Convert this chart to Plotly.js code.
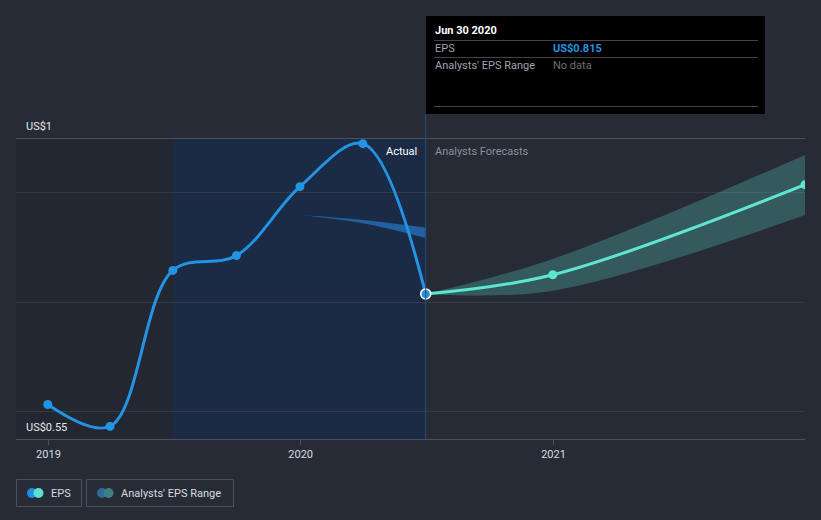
<!DOCTYPE html>
<html>
<head>
<meta charset="utf-8">
<script src="https://cdn.plot.ly/plotly-3.0.1.min.js"></script>
<style>
  html, body { margin: 0; padding: 0; background: #262b36; }
  #chart { width: 821px; height: 520px; }
</style>
</head>
<body>
<div id="chart"></div>
<script>
// ---- data ----
const actualDates = ['2018-12-31', '2019-03-31', '2019-06-30', '2019-09-30', '2019-12-31', '2020-03-31', '2020-06-30'];
const actualEps = [0.613, 0.573, 0.858, 0.885, 1.011, 1.0895, 0.815];

const forecastDates = ['2020-06-30', '2020-12-31', '2021-12-31'];
const forecastEps = [0.815, 0.850, 1.0146];
const forecastLow = [0.815, 0.821, 0.959];
const forecastHigh = [0.815, 0.879, 1.069];

const pastRangeDates = ['2019-12-31', '2020-03-31', '2020-06-30'];
const pastRangeLow = [0.959, 0.944, 0.917];
const pastRangeHigh = [0.959, 0.950, 0.936];

const xTickVals = ['2019-01-01', '2020-01-01', '2021-01-01'];
const xTickText = ['2019', '2020', '2021'];
const yGrid = [0.6, 0.8, 1.0];
const yRange = [0.55, 1.098];
const xRange = ['2018-11-15', '2021-12-31'];

// ---- layout helpers (pixel -> paper) ----
const L = 16, R = 805, T = 139, B = 439;
const px = x => (x - L) / (R - L);
const py = y => (B - y) / (B - T);

const font = 'Roboto, "Open Sans", sans-serif';
const blue = '#2394e3';
const teal = '#5fe6d3';

const traces = [
  { x: pastRangeDates, y: pastRangeLow, mode: 'lines', line: { width: 0, shape: 'spline', color: 'rgba(0,0,0,0)' }, showlegend: false, hoverinfo: 'skip' },
  { x: pastRangeDates, y: pastRangeHigh, mode: 'lines', fill: 'tonexty', fillcolor: 'rgba(36,110,185,0.8)', line: { width: 0, shape: 'spline', color: 'rgba(0,0,0,0)' }, showlegend: false, hoverinfo: 'skip' },
  { x: forecastDates, y: forecastLow, mode: 'lines', line: { width: 0, shape: 'spline', color: 'rgba(0,0,0,0)' }, showlegend: false, hoverinfo: 'skip' },
  { x: forecastDates, y: forecastHigh, mode: 'lines', fill: 'tonexty', fillcolor: 'rgba(90,200,190,0.3)', line: { width: 0, shape: 'spline', color: 'rgba(0,0,0,0)' }, showlegend: false, hoverinfo: 'skip' },
  { x: forecastDates, y: forecastEps, mode: 'lines+markers', line: { width: 3, shape: 'spline', color: teal }, marker: { size: 9, color: teal }, showlegend: false },
  { x: actualDates, y: actualEps, mode: 'lines+markers', line: { width: 3, shape: 'spline', color: blue }, marker: { size: 9, color: blue }, showlegend: false },
  { x: [actualDates[actualDates.length - 1]], y: [actualEps[actualEps.length - 1]], mode: 'markers', marker: { size: 10, color: blue, line: { color: '#ffffff', width: 1.5 } }, showlegend: false }
];

function rectPx(x0, y0, x1, y1, opts) {
  return Object.assign({ type: 'rect', xref: 'paper', yref: 'paper', x0: px(x0), x1: px(x1), y0: py(y1), y1: py(y0), line: { width: 0 } }, opts);
}
function linePx(x0, y0, x1, y1, color, w) {
  return { type: 'line', xref: 'paper', yref: 'paper', x0: px(x0), x1: px(x1), y0: py(y0), y1: py(y1), line: { color: color, width: w || 1 } };
}
function circlePx(cx, cy, r, color) {
  return { type: 'circle', xref: 'paper', yref: 'paper', x0: px(cx - r), x1: px(cx + r), y0: py(cy + r), y1: py(cy - r), fillcolor: color, line: { width: 0 } };
}

const shapes = [
  { type: 'rect', xref: 'x', yref: 'paper', x0: xRange[0], x1: '2019-06-30', y0: 0, y1: 1, fillcolor: 'rgba(15,17,22,0.13)', line: { width: 0 }, layer: 'below' },
  { type: 'rect', xref: 'x', yref: 'paper', x0: '2019-06-30', x1: '2020-06-30', y0: 0, y1: 1, fillcolor: '#1b2b46', line: { width: 0 }, layer: 'below' },
  // vertical divider
  { type: 'line', xref: 'x', yref: 'paper', x0: '2020-06-30', x1: '2020-06-30', y0: 0, y1: py(114), line: { color: '#2b4d7c', width: 1 } },
  // tooltip
  rectPx(426, 16, 765, 114, { fillcolor: '#000000' }),
  linePx(434, 40.5, 758, 40.5, '#444444'),
  linePx(434, 57.5, 758, 57.5, '#444444'),
  linePx(434, 106.5, 758, 106.5, '#444444'),
  // legend boxes
  rectPx(16.5, 479.5, 81.5, 506.5, { line: { color: '#4a505c', width: 1 } }),
  rectPx(86.5, 479.5, 233.5, 506.5, { line: { color: '#4a505c', width: 1 } }),
  circlePx(32, 493, 5, '#1f8fe5'),
  circlePx(38.5, 493, 5, '#5de0d0'),
  circlePx(102, 493, 5, '#2c6a9c'),
  circlePx(108.5, 493, 5, '#3f8083')
];

function ann(text, x, y, opts) {
  return Object.assign({ text: text, xref: 'paper', yref: 'paper', x: px(x), y: py(y), xanchor: 'left', yanchor: 'middle', showarrow: false, font: { family: font, size: 11, color: '#e6e8eb' } }, opts);
}

const annotations = [
  ann('US$1', 24, 127),
  ann('US$0.55', 24, 427),
  { text: 'Actual', xref: 'x', yref: 'paper', x: '2020-06-30', xshift: -7, y: py(151), xanchor: 'right', yanchor: 'middle', showarrow: false, font: { family: font, size: 11, color: '#ffffff' } },
  { text: 'Analysts Forecasts', xref: 'x', yref: 'paper', x: '2020-06-30', xshift: 7, y: py(151), xanchor: 'left', yanchor: 'middle', showarrow: false, font: { family: font, size: 11, color: '#8a8f99' } },
  ann('<b>Jun 30 2020</b>', 433, 31, { font: { family: font, size: 11, color: '#ffffff' } }),
  ann('EPS', 433, 48, { font: { family: font, size: 11, color: '#a0a4ab' } }),
  ann('<b>US$0.815</b>', 551, 48, { font: { family: font, size: 11, color: '#2394e3' } }),
  ann("Analysts' EPS Range", 433, 65, { font: { family: font, size: 11, color: '#a0a4ab' } }),
  ann('No data', 551, 65, { font: { family: font, size: 11, color: '#6b6f77' } }),
  ann('EPS', 49, 493, { font: { family: font, size: 11, color: '#d8dbe0' } }),
  ann("Analysts' EPS Range", 119, 493, { font: { family: font, size: 11, color: '#d8dbe0' } })
];

const layout = {
  width: 821, height: 520,
  paper_bgcolor: '#262b36',
  plot_bgcolor: '#262b36',
  margin: { l: L, r: 821 - R, t: T, b: 520 - B, pad: 0 },
  showlegend: false,
  hovermode: false,
  font: { family: font, size: 11, color: '#d8dbe0' },
  xaxis: {
    type: 'date', range: xRange, tickvals: xTickVals, ticktext: xTickText,
    showgrid: false, zeroline: false, showline: true, mirror: true, linecolor: '#4b515d', linewidth: 1,
    ticks: 'outside', ticklen: 5, tickcolor: '#4b515d', tickfont: { family: font, size: 11, color: '#d8dbe0' }, fixedrange: true
  },
  yaxis: {
    range: yRange, tickvals: yGrid, showticklabels: false, showgrid: true, gridcolor: '#343a46', gridwidth: 1,
    zeroline: false, showline: false, ticks: '', fixedrange: true
  },
  shapes: shapes,
  annotations: annotations
};

Plotly.newPlot('chart', traces, layout, { displayModeBar: false, staticPlot: true });
</script>
</body>
</html>
